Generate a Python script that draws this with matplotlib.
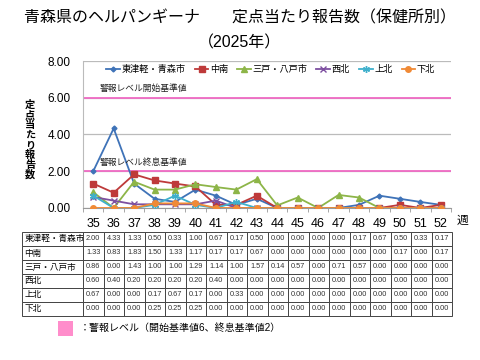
import matplotlib
matplotlib.use("Agg")
import matplotlib.pyplot as plt
from matplotlib.ticker import FixedLocator, FormatStrFormatter
import numpy as np

plt.rcParams['font.family'] = ['Liberation Sans', 'Noto Sans CJK JP', 'DejaVu Sans']

weeks = [str(w) for w in range(35, 53)]
series_names = ["東津軽・青森市", "中南", "三戸・八戸市", "西北", "上北", "下北"]
higashi_tsugaru = [2.00, 4.33, 1.33, 0.50, 0.33, 1.00, 0.67, 0.17, 0.50, 0.00, 0.00, 0.00, 0.00, 0.17, 0.67, 0.50, 0.33, 0.17]
chunan = [1.33, 0.83, 1.83, 1.50, 1.33, 1.17, 0.17, 0.17, 0.67, 0.00, 0.00, 0.00, 0.00, 0.00, 0.00, 0.17, 0.00, 0.17]
sannohe = [0.86, 0.00, 1.43, 1.00, 1.00, 1.29, 1.14, 1.00, 1.57, 0.14, 0.57, 0.00, 0.71, 0.57, 0.00, 0.00, 0.00, 0.00]
seihoku = [0.60, 0.40, 0.20, 0.20, 0.20, 0.20, 0.40, 0.00, 0.00, 0.00, 0.00, 0.00, 0.00, 0.00, 0.00, 0.00, 0.00, 0.00]
kamikita = [0.67, 0.00, 0.00, 0.17, 0.67, 0.17, 0.00, 0.33, 0.00, 0.00, 0.00, 0.00, 0.00, 0.00, 0.00, 0.00, 0.00, 0.00]
shimokita = [0.00, 0.00, 0.00, 0.25, 0.25, 0.25, 0.00, 0.00, 0.00, 0.00, 0.00, 0.00, 0.00, 0.00, 0.00, 0.00, 0.00, 0.00]
all_series = [higashi_tsugaru, chunan, sannohe, seihoku, kamikita, shimokita]
alert_start = 6
alert_end = 2
yticks = [0, 2, 4, 6, 8]

colors = ["#3F73B8", "#BE3A3A", "#8DB548", "#7D4FA0", "#3FB0CC", "#F08A36"]
markers = ["D", "s", "^", "x", (6, 2, 0), "o"]
msizes = [2.5, 4, 4.5, 4, 5, 4]

fig = plt.figure(figsize=(4.8, 3.6), dpi=100)
ax = fig.add_axes([83/480, 1-208/360, 368/480, 147/360])

x = np.arange(len(weeks))
for name, vals, c, m, ms in zip(series_names, all_series, colors, markers, msizes):
    ax.plot(x, vals, color=c, marker=m, markersize=ms, linewidth=1.3, label=name,
            markeredgewidth=1.0, zorder=3)

pink = "#F06BC4"
ax.axhline(alert_start, color=pink, linewidth=1.3, zorder=2)
ax.axhline(alert_end, color=pink, linewidth=1.3, zorder=2)
ax.text(0.3, alert_start + 0.25, "警報レベル開始基準値", fontsize=6.3, va='bottom', ha='left', color='#222222')
ax.text(0.3, alert_end + 0.25, "警報レベル終息基準値", fontsize=6.3, va='bottom', ha='left', color='#222222')

ax.set_xlim(-0.5, len(weeks) - 0.5)
ax.set_ylim(-0.001, 8.001)
ax.yaxis.set_major_locator(FixedLocator(yticks))
ax.yaxis.set_major_formatter(FormatStrFormatter("%.2f"))
ax.tick_params(axis='y', labelsize=8.5, length=0, pad=9)
ax.yaxis.grid(True, color="#BBBBBB", linewidth=0.9)
ax.set_axisbelow(True)
ax.set_xticks(x)
ax.set_xticklabels(weeks, fontsize=9)
ax.set_xticks(np.arange(-0.5, len(weeks), 1), minor=True)
ax.tick_params(axis='x', which='major', length=0, pad=7)
ax.tick_params(axis='x', which='minor', length=3, color="#999999")
for s in ['top', 'right']:
    ax.spines[s].set_visible(False)
ax.spines['left'].set_color("#BBBBBB")
ax.spines['bottom'].set_color("#999999")

ax.text(1.015, -0.085, "週", transform=ax.transAxes, fontsize=8.5, ha='left', va='center')

ax.legend(loc='upper center', bbox_to_anchor=(0.51, 1.03), ncol=6, frameon=False,
          fontsize=6.6, handlelength=1.5, columnspacing=1.0, handletextpad=0.15)

# y label (stacked vertical)
fig.text(30/480, 1-140/360, "\n".join("定点当たり報告数"), fontsize=7.3, ha='center', va='center',
         linespacing=1.0, fontweight='bold')

# Title
fig.text(0.5, 1-18/360, "青森県のヘルパンギーナ　　定点当たり報告数（保健所別）", fontsize=11.5,
         ha='center', va='center')
fig.text(0.5, 1-43/360, "（2025年）", fontsize=11.5, ha='center', va='center')

# Table
cell_text = [[name] + [f"{v:.2f}" for v in vals] for name, vals in zip(series_names, all_series)]
tw = 452 - 22
label_w = 61 / tw
col_w = (1 - label_w) / len(weeks)
tax = fig.add_axes([22/480, 1-316/360, tw/480, 84/360])
tax.axis('off')
tbl = tax.table(cellText=cell_text, colWidths=[label_w] + [col_w]*len(weeks),
                bbox=[0, 0, 1, 1], cellLoc='center')
tbl.auto_set_font_size(False)
for (r, c), cell in tbl.get_celld().items():
    cell.set_edgecolor("#444444")
    cell.set_linewidth(0.7)
    if c == 0:
        cell.get_text().set_fontsize(6.2)
        cell.get_text().set_ha('left')
        cell._loc = 'left'
        cell.PAD = 0.04
    else:
        cell.get_text().set_fontsize(5.3)
        cell.get_text().set_color("#333333")

# Legend for alert level
fig.patches.append(plt.Rectangle((58/480, 1-336/360), 15/480, 15/360, transform=fig.transFigure,
                                 facecolor="#FF8DCB", edgecolor='none'))
fig.text(80/480, 1-328/360, "：警報レベル（開始基準値6、終息基準値2）", fontsize=7.2, ha='left', va='center')

fig.savefig("out.png", dpi=100, facecolor='white')
